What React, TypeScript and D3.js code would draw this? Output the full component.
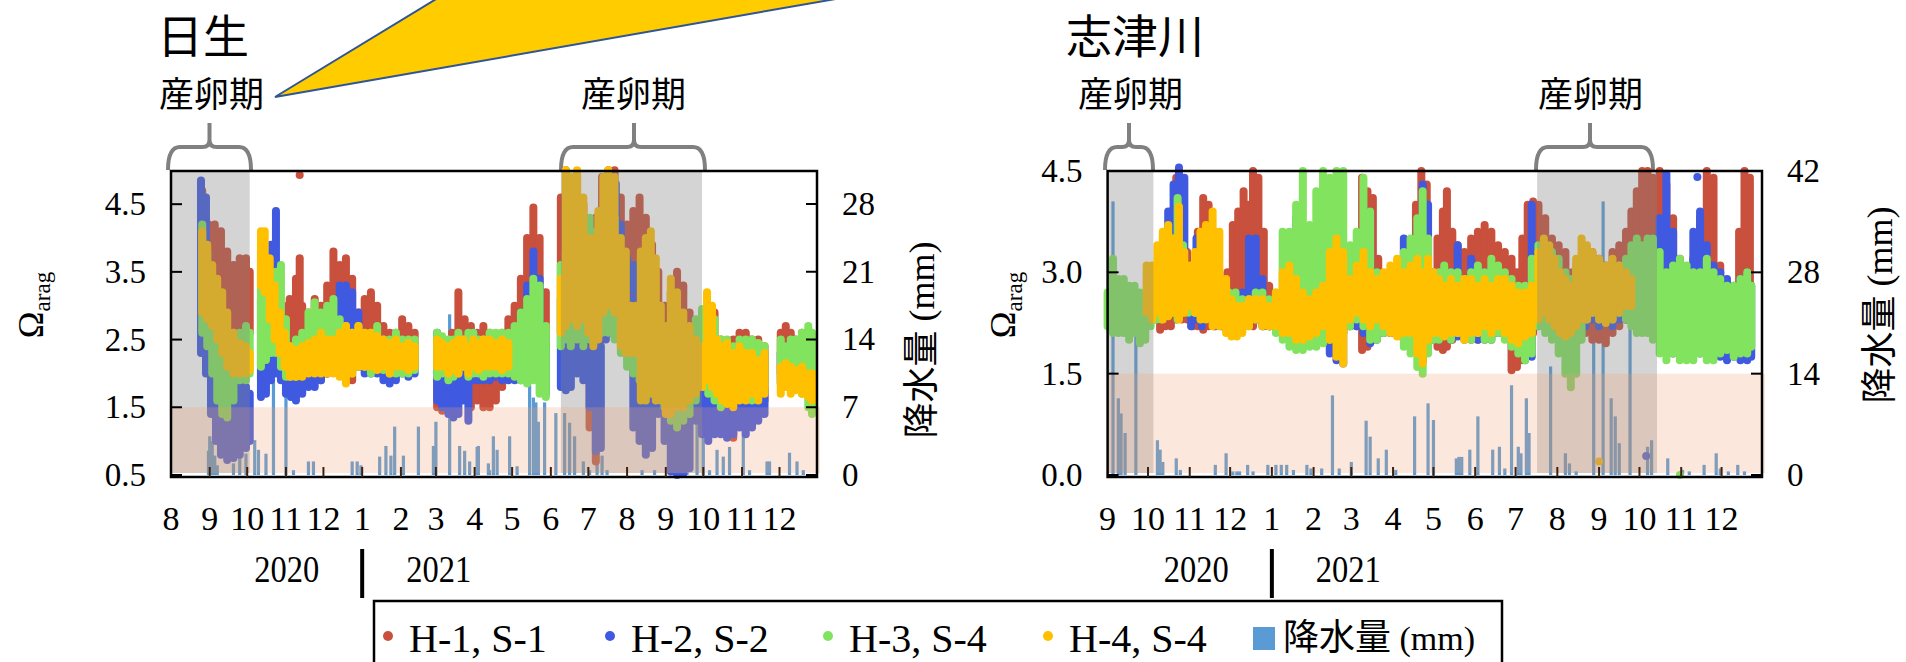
import * as d3 from "d3";
import React from "react";

// each observation: [days since panel start, low, high] of the dense point cloud
type Obs = [number, number, number];
// each rain entry: [days since panel start, mm]
type Rain = [number, number];

const W = 1906;
const H = 662;
const serif = "'Liberation Serif', 'Times New Roman', serif";
const cjk = "'Noto Sans CJK JP', 'Noto Sans CJK SC', sans-serif";

const seriesNames = ["H-1, S-1", "H-2, S-2", "H-3, S-4", "H-4, S-4"];
const seriesColors = ["#c8503c", "#3f5ae0", "#82e35e", "#ffc000"];
const rainColor = "#5b9bd5";
const rainLabel = "降水量";

// ---------- 日生 ----------
const hinaseTitle = "日生";
const hinaseStart = new Date(2020, 7, 1);
const hinaseEnd = new Date(2021, 11, 31);
const hinaseYTicks = [0.5, 1.5, 2.5, 3.5, 4.5];
const hinaseRainTicks = [0, 7, 14, 21, 28];
const hinaseSpawn = [
  [new Date(2020, 7, 1), new Date(2020, 9, 3)],
  [new Date(2021, 5, 9), new Date(2021, 8, 30)],
];

const hinaseH1: Obs[] = [
  [25, 3.9, 4.7], [30, 2.4, 4.2], [35, 2.4, 4.2], [40, 2.5, 4.1], [45, 2.4, 3.8], [50, 2.5, 3.6], [55, 2.6, 3.7], [60, 2.5, 3.7], [63, 2.6, 3.5],
  [72, 1.9, 3.8], [76, 2.0, 3.5], [80, 2.2, 3.3], [85, 2.4, 3.0], [90, 2.2, 3.0], [95, 2.0, 3.1], [100, 2.0, 3.4], [103, 1.9, 3.7], [103, 4.93, 4.93],
  [105, 2.0, 3.0], [110, 2.1, 2.9], [115, 2.0, 3.1], [120, 1.9, 3.0], [125, 2.0, 3.3], [130, 2.2, 3.8], [135, 2.0, 3.6], [140, 1.9, 3.7], [145, 1.9, 3.4],
  [150, 2.1, 2.9], [155, 2.3, 3.1], [160, 2.4, 3.2], [165, 2.4, 3.0], [170, 2.2, 2.7], [175, 2.2, 2.6], [180, 2.3, 2.6], [185, 2.2, 2.8], [190, 2.1, 2.7], [195, 2.1, 2.6],
  [213, 1.5, 1.9], [217, 1.45, 1.9], [221, 1.5, 2.0], [225, 1.6, 2.6], [230, 1.8, 3.2], [235, 1.7, 2.8], [240, 1.5, 2.7], [245, 1.6, 2.6], [250, 1.5, 2.7],
  [255, 1.5, 2.6], [260, 1.6, 2.5], [265, 1.8, 2.6], [270, 2.0, 2.8], [275, 2.2, 3.0], [280, 2.3, 3.4], [285, 2.4, 4.0], [290, 2.6, 4.45], [295, 2.5, 4.0], [300, 2.3, 3.2],
  [312, 2.6, 4.6], [316, 2.6, 5.0], [320, 2.7, 4.8], [325, 2.6, 4.9], [330, 2.5, 4.5], [335, 1.2, 4.0], [340, 0.7, 4.3], [345, 2.5, 4.9], [350, 3.0, 5.0],
  [355, 3.0, 5.0], [360, 2.6, 4.6], [365, 2.8, 4.2], [370, 2.9, 4.4], [375, 2.8, 4.6], [380, 2.9, 4.3], [385, 2.5, 3.9], [390, 2.2, 3.5], [395, 1.9, 3.0],
  [400, 1.9, 3.2], [405, 2.0, 3.5], [410, 2.0, 3.3], [415, 1.9, 2.9], [420, 2.0, 2.7], [425, 2.2, 2.9], [430, 2.5, 3.0], [435, 2.4, 2.9], [440, 1.6, 2.5],
  [445, 1.2, 2.4], [450, 1.05, 2.5], [455, 1.3, 2.6], [460, 1.2, 2.6], [465, 1.4, 2.5], [470, 1.5, 2.5], [475, 1.6, 2.4],
  [488, 2.0, 2.6], [492, 2.1, 2.7], [496, 2.2, 2.6], [500, 2.0, 2.5], [505, 2.1, 2.6], [510, 2.0, 2.5], [513, 2.1, 2.4],
];

const hinaseH2: Obs[] = [
  [24, 2.3, 4.85], [28, 2.0, 4.6], [32, 1.4, 3.2], [36, 1.0, 2.6], [40, 0.8, 2.3], [45, 0.72, 2.1], [50, 0.75, 1.9], [55, 0.8, 1.9], [60, 0.9, 1.8], [63, 1.0, 1.7],
  [72, 1.65, 3.1], [76, 1.7, 3.0], [80, 1.9, 3.9], [84, 2.0, 4.4], [88, 1.9, 3.0], [92, 1.7, 2.4], [96, 1.65, 2.2], [100, 1.6, 2.1], [105, 1.7, 2.2],
  [110, 1.8, 2.2], [115, 1.8, 2.3], [120, 1.9, 2.4], [125, 2.0, 2.6], [130, 2.1, 3.0], [135, 2.1, 3.3], [140, 2.1, 3.3], [145, 2.1, 3.2], [150, 2.1, 2.9],
  [155, 2.0, 2.6], [160, 2.0, 2.5], [165, 2.0, 2.5], [170, 1.9, 2.5], [175, 1.85, 2.4], [180, 1.9, 2.4], [185, 2.0, 2.4], [190, 1.95, 2.4], [195, 2.0, 2.3],
  [213, 1.6, 2.6], [217, 1.5, 2.4], [222, 1.4, 2.3], [226, 1.35, 2.2], [230, 1.4, 2.4], [234, 1.6, 2.5], [238, 1.3, 2.4], [242, 1.9, 2.6], [246, 1.9, 2.4],
  [250, 1.9, 2.3], [255, 1.9, 2.4], [260, 1.95, 2.4], [265, 1.9, 2.3], [270, 1.9, 2.4], [275, 1.9, 2.6], [280, 1.9, 2.9], [285, 2.0, 3.3], [290, 2.1, 3.8],
  [295, 2.0, 3.4], [300, 1.7, 2.5],
  [312, 1.8, 3.1], [316, 1.75, 3.1], [320, 1.8, 3.0], [325, 2.0, 2.9], [330, 1.9, 2.9], [335, 1.5, 2.8], [340, 0.85, 2.6], [344, 0.9, 2.4], [348, 2.5, 4.9],
  [352, 2.6, 4.95], [356, 2.8, 4.8], [360, 2.6, 4.2], [365, 2.5, 3.7], [370, 1.2, 3.6], [375, 1.0, 3.3], [380, 0.8, 3.0], [385, 0.9, 2.8], [390, 1.4, 2.5],
  [395, 1.0, 2.0], [400, 0.55, 2.0], [405, 0.5, 1.9], [410, 0.52, 2.0], [415, 0.6, 2.2], [420, 1.3, 2.6], [425, 1.1, 2.3], [430, 1.0, 2.2], [435, 1.1, 2.3],
  [440, 1.1, 2.2], [445, 1.05, 2.2], [450, 1.1, 2.2], [455, 1.2, 2.3], [460, 1.1, 2.1], [465, 1.2, 2.2], [470, 1.3, 2.2], [475, 1.4, 2.3],
  [488, 1.85, 2.3], [492, 1.9, 2.4], [496, 2.0, 2.4], [500, 1.9, 2.3], [505, 1.85, 2.5], [510, 1.9, 2.4], [513, 2.0, 2.3],
];

const hinaseH3: Obs[] = [
  [25, 2.6, 4.2], [29, 2.4, 3.8], [33, 2.0, 3.3], [37, 1.6, 2.9], [41, 1.4, 2.7], [45, 1.35, 2.6], [50, 1.6, 2.6], [55, 1.9, 2.6], [60, 1.9, 2.7], [63, 2.0, 2.6],
  [72, 2.1, 3.6], [76, 2.2, 3.4], [80, 2.3, 3.3], [84, 2.3, 3.5], [88, 2.1, 3.6], [92, 1.95, 2.8], [96, 1.95, 2.4], [100, 1.95, 2.5], [105, 2.0, 2.6],
  [110, 2.1, 2.9], [115, 2.2, 3.05], [120, 2.1, 2.9], [125, 2.2, 3.0], [130, 2.1, 3.1], [135, 2.0, 2.8], [140, 2.0, 2.7], [145, 2.0, 2.6], [150, 2.1, 2.7],
  [155, 2.1, 2.6], [160, 2.0, 2.6], [165, 2.1, 2.7], [170, 2.05, 2.5], [175, 2.0, 2.5], [180, 2.0, 2.6], [185, 2.0, 2.5], [190, 2.0, 2.5], [195, 2.05, 2.5],
  [213, 1.95, 2.6], [217, 2.0, 2.55], [222, 1.9, 2.5], [226, 1.95, 2.5], [230, 2.0, 2.6], [234, 2.1, 2.5], [238, 1.95, 2.6], [242, 2.0, 2.6], [246, 2.0, 2.5],
  [250, 1.95, 2.5], [255, 2.0, 2.6], [260, 2.0, 2.6], [265, 2.0, 2.6], [270, 2.0, 2.6], [275, 1.95, 2.7], [280, 1.9, 2.9], [285, 1.85, 3.1], [290, 1.9, 3.4],
  [295, 1.7, 3.3], [300, 1.65, 2.7],
  [312, 2.4, 3.6], [316, 2.5, 3.8], [320, 2.4, 4.0], [325, 2.5, 4.0], [330, 2.4, 4.2], [335, 2.5, 4.3], [340, 2.5, 4.1], [345, 2.6, 4.4], [350, 2.6, 4.6],
  [355, 2.5, 4.3], [360, 2.3, 3.8], [365, 2.1, 3.0], [370, 2.0, 2.9], [375, 1.9, 2.8], [380, 1.85, 2.7], [385, 1.9, 2.6], [390, 1.8, 2.7], [395, 1.5, 2.6],
  [400, 1.3, 2.5], [405, 1.2, 2.4], [410, 1.3, 2.5], [415, 1.4, 2.6], [420, 1.6, 2.8], [425, 1.8, 2.95], [430, 1.7, 2.9], [435, 1.6, 2.8], [440, 1.5, 2.5],
  [445, 1.6, 2.5], [450, 1.6, 2.4], [455, 1.7, 2.5], [460, 1.7, 2.5], [465, 1.6, 2.5], [470, 1.7, 2.45], [475, 1.8, 2.4],
  [488, 1.9, 2.5], [492, 1.8, 2.4], [496, 1.9, 2.5], [500, 1.8, 2.5], [505, 1.7, 2.6], [510, 1.5, 2.7], [513, 1.4, 2.6],
];

const hinaseH4: Obs[] = [
  [25, 2.9, 4.1], [29, 2.8, 3.9], [33, 2.7, 3.6], [37, 2.5, 3.4], [41, 2.3, 3.2], [45, 2.1, 2.9], [50, 2.0, 2.6], [55, 2.0, 2.45], [60, 2.0, 2.4], [63, 2.05, 2.3],
  [72, 3.3, 4.1], [75, 3.2, 4.1], [79, 2.8, 3.7], [83, 2.5, 3.3], [87, 2.3, 2.9], [91, 2.1, 2.6], [95, 1.95, 2.4], [100, 1.95, 2.35], [105, 1.95, 2.4],
  [110, 2.0, 2.45], [115, 2.0, 2.5], [120, 2.0, 2.6], [125, 2.0, 2.5], [130, 2.0, 2.5], [135, 1.95, 2.6], [140, 1.85, 2.7], [145, 2.0, 2.6], [150, 2.1, 2.7],
  [155, 2.1, 2.6], [160, 2.1, 2.6], [165, 2.05, 2.55], [170, 2.1, 2.5], [175, 2.0, 2.45], [180, 2.1, 2.5], [185, 2.1, 2.4], [190, 2.05, 2.45], [195, 2.1, 2.4],
  [213, 2.1, 2.5], [217, 2.1, 2.45], [222, 2.0, 2.4], [226, 2.05, 2.45], [230, 2.0, 2.5], [234, 2.1, 2.5], [238, 2.0, 2.4], [242, 2.1, 2.5], [246, 2.05, 2.45],
  [250, 2.1, 2.5], [255, 2.1, 2.5], [260, 2.1, 2.45], [265, 2.05, 2.5], [270, 2.1, 2.45],
  [312, 2.6, 3.4], [316, 2.7, 5.0], [320, 2.8, 4.9], [325, 2.7, 5.0], [330, 2.8, 4.6], [334, 2.6, 4.0], [338, 2.4, 4.0], [342, 2.5, 4.4], [346, 2.9, 4.9],
  [350, 3.0, 5.0], [355, 2.9, 4.9], [360, 2.4, 4.0], [364, 2.3, 3.8], [368, 2.3, 3.0], [372, 2.3, 3.0], [376, 1.6, 3.8], [380, 1.6, 4.0], [384, 1.7, 4.1],
  [388, 1.6, 3.7], [392, 1.6, 3.0], [396, 1.4, 2.7], [400, 1.4, 3.4], [405, 1.5, 3.2], [410, 1.5, 2.9], [415, 1.6, 2.7], [420, 1.7, 2.5], [425, 1.8, 2.4],
  [429, 1.9, 3.2], [433, 1.8, 3.0], [437, 1.7, 2.5], [441, 1.6, 2.4], [445, 1.55, 2.45], [450, 1.5, 2.3], [455, 1.6, 2.4], [460, 1.6, 2.3], [465, 1.7, 2.3],
  [470, 1.6, 2.2], [475, 1.7, 2.3],
  [488, 1.7, 2.1], [492, 1.8, 2.15], [496, 1.7, 2.1], [500, 1.75, 2.05], [505, 1.7, 2.1], [510, 1.65, 2.0], [513, 1.6, 2.0],
];

const hinaseRain: Rain[] = [
  [30, 2.5], [31, 4], [33, 3.5], [35, 2], [37, 1], [50, 1.2], [55, 2.6], [60, 2.2], [67, 3.6], [70, 2.6], [76, 2.2], [82, 9.8], [92, 9.0], [98, 0.5],
  [110, 1.4], [114, 1.4], [145, 1.4], [149, 1.4], [152, 1.0], [167, 1.9], [172, 3.0], [176, 2.0], [179, 5.0], [186, 2.0], [198, 5.0], [210, 3.0],
  [212, 5.5], [223, 16.6], [231, 3.0], [235, 2.5], [239, 1.4], [245, 2.9], [246, 3.0], [254, 1.2], [255, 0.5], [258, 4.0], [261, 2.6], [271, 4.0],
  [277, 0.9], [287, 11.0], [290, 8.0], [292, 7.5], [294, 5.5], [299, 7.5], [308, 6.4], [315, 6.4], [319, 5.4], [323, 4.0], [330, 1.4], [335, 0.5],
  [341, 3.3], [345, 2.0], [349, 0.5], [377, 0.5], [387, 0.5], [401, 1.9], [406, 2.6], [413, 0.9], [421, 6.0], [426, 6.0], [431, 0.5], [437, 2.6],
  [442, 1.9], [447, 2.9], [458, 6.8], [463, 0.5], [477, 1.4], [479, 1.4], [495, 2.3], [501, 1.4], [506, 0.5],
];

// ---------- 志津川 ----------
const shizuTitle = "志津川";
const shizuStart = new Date(2020, 8, 1);
const shizuEnd = new Date(2021, 11, 31);
const shizuYTicks = [0, 1.5, 3.0, 4.5];
const shizuRainTicks = [0, 14, 28, 42];
const shizuSpawn = [
  [new Date(2020, 8, 1), new Date(2020, 9, 5)],
  [new Date(2021, 6, 17), new Date(2021, 9, 14)],
];

const shizuH1: Obs[] = [
  [35, 2.3, 2.8], [39, 2.15, 3.2], [43, 2.2, 3.6], [47, 2.2, 3.9], [51, 2.3, 4.4], [55, 2.3, 4.3], [59, 2.3, 3.3],
  [63, 2.2, 2.8], [67, 2.2, 3.6], [71, 2.15, 4.1], [75, 2.2, 4.0], [79, 2.2, 3.6], [84, 2.2, 2.9], [89, 2.3, 3.0],
  [93, 2.2, 3.7], [97, 2.15, 3.9], [101, 2.2, 4.2], [105, 2.3, 4.0], [108, 2.2, 4.5], [112, 2.3, 4.4], [116, 2.2, 3.6], [120, 2.2, 2.8],
  [125, 2.2, 2.6], [130, 2.1, 2.6], [135, 2.1, 2.7], [140, 2.1, 2.7], [145, 2.1, 2.8], [150, 2.0, 2.9], [155, 2.0, 3.3], [160, 2.1, 3.8],
  [165, 2.1, 3.6], [170, 2.0, 3.5], [175, 2.1, 3.3], [180, 2.2, 2.9],
  [185, 2.2, 3.2], [189, 1.85, 4.4], [193, 1.9, 4.2], [197, 2.0, 4.1], [201, 2.1, 3.2], [205, 2.1, 2.8], [210, 2.1, 2.9], [215, 2.1, 3.0],
  [220, 2.0, 3.1], [225, 2.0, 3.3], [229, 2.0, 4.0], [233, 2.1, 4.5], [237, 2.1, 4.3], [241, 2.0, 3.0],
  [245, 1.9, 3.5], [249, 1.85, 3.9], [252, 1.9, 4.2], [256, 2.0, 3.6], [260, 2.1, 3.4], [265, 2.0, 3.3], [270, 2.0, 3.5], [275, 2.0, 3.6],
  [280, 2.1, 3.7], [285, 2.2, 3.6], [290, 2.1, 3.4],
  [295, 2.2, 3.3], [300, 1.55, 3.2], [304, 1.6, 3.0], [308, 1.7, 3.5], [312, 2.0, 4.0], [316, 2.1, 4.05],
  [320, 2.2, 4.0], [325, 2.3, 3.8], [330, 2.4, 3.5], [335, 2.3, 3.4], [340, 2.2, 3.3], [345, 1.9, 3.0], [350, 2.0, 3.2],
  [355, 2.1, 3.3], [360, 2.0, 3.3], [365, 2.0, 3.2], [370, 1.95, 3.1], [375, 2.1, 3.3], [380, 2.2, 3.4], [385, 2.3, 3.6],
  [389, 2.3, 3.9], [393, 2.3, 4.2], [397, 2.4, 4.5], [401, 2.3, 4.5], [405, 2.3, 4.4],
  [410, 2.2, 4.5], [415, 2.0, 4.3], [420, 1.9, 3.8], [425, 1.8, 3.2],
  [430, 1.9, 3.0], [435, 2.0, 3.2], [440, 2.3, 3.8], [445, 2.2, 4.5], [450, 2.1, 4.4],
  [455, 1.9, 3.1], [460, 2.0, 2.8], [465, 2.0, 2.7], [469, 2.1, 3.6], [473, 2.3, 4.5], [477, 2.4, 4.4],
];

const shizuH2: Obs[] = [
  [37, 2.4, 3.0], [41, 2.3, 3.3], [45, 2.4, 3.9], [49, 2.5, 4.3], [53, 2.6, 4.55], [57, 2.4, 4.4],
  [62, 2.2, 2.8], [66, 2.3, 3.5], [70, 2.2, 3.4], [75, 2.3, 3.0], [80, 2.2, 2.7], [85, 2.2, 2.6], [90, 2.3, 2.6],
  [95, 2.3, 2.6], [100, 2.2, 2.7], [105, 2.3, 3.5], [110, 2.3, 3.5], [115, 2.2, 2.9], [120, 2.2, 2.6],
  [125, 2.3, 2.6], [130, 2.2, 2.7], [135, 2.2, 2.9], [140, 2.1, 3.8], [145, 2.0, 3.6], [150, 2.0, 3.3], [155, 2.0, 3.5], [160, 2.1, 3.1],
  [165, 1.8, 3.0], [170, 1.7, 2.9], [175, 1.65, 3.0], [180, 2.2, 2.8],
  [185, 2.2, 2.9], [190, 2.1, 3.6], [195, 1.95, 3.9], [200, 2.0, 3.0], [205, 2.1, 2.8], [210, 2.1, 2.9], [215, 2.1, 3.0], [220, 2.0, 3.5],
  [225, 2.1, 3.4], [230, 1.8, 3.7], [234, 1.7, 4.3], [238, 2.0, 4.0], [242, 2.1, 3.0],
  [246, 2.0, 2.7], [250, 2.1, 2.8], [255, 2.0, 3.0], [260, 2.05, 3.4], [265, 2.1, 2.9], [270, 2.1, 3.2], [275, 2.0, 2.9], [280, 2.0, 3.0],
  [285, 2.0, 2.9], [290, 2.1, 2.8],
  [295, 2.1, 2.8], [300, 2.0, 2.7], [305, 1.95, 2.7], [310, 1.7, 2.6], [315, 1.75, 4.0],
  [320, 2.3, 2.9], [325, 2.3, 2.8], [330, 2.3, 2.8], [335, 2.2, 2.8], [340, 2.2, 2.9], [345, 2.3, 2.8], [350, 2.3, 2.9],
  [355, 2.2, 3.0], [360, 2.3, 3.1], [365, 2.2, 3.0], [370, 2.3, 2.9], [375, 2.2, 3.0], [380, 2.3, 3.1], [385, 2.3, 3.0], [389, 2.3, 3.2],
  [393, 2.3, 3.2], [397, 2.2, 3.3], [400, 0.28, 0.28], [401, 2.3, 3.4], [405, 2.3, 3.5],
  [410, 2.1, 3.8], [415, 1.9, 4.46], [420, 1.8, 3.6], [425, 1.8, 3.1],
  [430, 1.8, 3.0], [435, 1.8, 3.6], [438, 4.41, 4.41], [440, 1.8, 3.9], [445, 1.9, 3.4], [450, 1.8, 3.1],
  [455, 1.75, 3.0], [460, 1.7, 2.9], [465, 1.75, 2.8], [470, 1.7, 2.9], [475, 1.7, 3.0], [478, 1.75, 2.8],
];

const shizuH3: Obs[] = [
  [0, 2.2, 2.7], [4, 2.1, 3.2], [8, 2.1, 2.9], [12, 2.1, 2.9], [16, 2.0, 2.8], [20, 2.1, 2.8], [24, 1.95, 2.7], [28, 2.0, 2.6], [32, 2.2, 2.8],
  [36, 2.3, 2.8], [40, 2.3, 3.0], [44, 2.4, 3.2], [48, 2.4, 3.5], [52, 2.3, 4.1], [56, 2.4, 3.4],
  [60, 2.4, 2.8], [65, 2.4, 2.8], [70, 2.4, 2.9], [75, 2.5, 2.9], [80, 2.4, 2.7], [85, 2.3, 2.6], [90, 2.3, 2.7],
  [95, 2.3, 2.7], [100, 2.2, 2.6], [105, 2.2, 2.6], [110, 2.3, 2.7], [115, 2.3, 2.7], [120, 2.2, 2.6],
  [125, 2.1, 2.7], [130, 2.0, 3.6], [135, 1.9, 3.6], [140, 1.85, 4.0], [145, 1.85, 4.5], [150, 1.9, 3.7], [155, 1.9, 4.2], [160, 1.95, 4.5],
  [165, 2.0, 4.4], [170, 2.0, 4.5], [175, 2.1, 4.5], [180, 2.2, 3.4],
  [185, 2.3, 3.6], [190, 2.2, 4.4], [195, 2.0, 3.9], [200, 2.0, 3.0], [205, 2.1, 2.9], [210, 2.2, 3.0], [215, 2.1, 2.9], [220, 1.9, 3.3],
  [225, 1.8, 3.5], [230, 1.6, 3.8], [234, 1.5, 4.2], [238, 1.8, 3.5], [242, 2.0, 3.0],
  [246, 2.0, 3.0], [250, 2.1, 3.1], [255, 2.0, 3.0], [260, 2.1, 3.0], [265, 2.0, 2.9], [270, 2.0, 3.0], [275, 2.1, 3.1], [280, 2.0, 3.0],
  [285, 2.0, 3.2], [290, 2.1, 3.1],
  [295, 2.0, 3.0], [300, 1.9, 2.9], [305, 1.8, 2.8], [310, 1.7, 2.8], [315, 1.8, 3.2],
  [320, 2.2, 3.4], [325, 2.1, 3.3], [330, 2.0, 3.3], [335, 1.8, 3.2], [340, 1.5, 3.0], [344, 1.3, 2.9], [348, 1.5, 3.1], [352, 2.0, 3.2],
  [356, 2.3, 3.1], [360, 2.4, 3.1], [365, 2.3, 3.0], [370, 2.3, 3.0], [375, 2.3, 3.1], [380, 2.4, 3.1], [385, 2.3, 3.2], [389, 2.2, 3.4],
  [393, 2.1, 3.5], [397, 2.1, 3.4], [401, 2.1, 3.5], [405, 2.0, 3.5],
  [410, 1.8, 3.3], [415, 1.7, 3.0], [420, 1.8, 3.1], [425, 1.7, 3.2], [425, 0.0, 0.0],
  [430, 1.7, 3.1], [435, 1.7, 3.0], [440, 1.8, 3.0], [445, 1.7, 3.2], [450, 1.7, 3.0],
  [455, 1.8, 2.9], [460, 1.85, 2.8], [465, 1.75, 2.8], [470, 1.8, 2.9], [475, 1.8, 3.0], [478, 1.9, 2.8],
];

const shizuH4: Obs[] = [
  [29, 2.4, 3.1], [33, 2.3, 3.1],
  [37, 2.4, 3.4], [41, 2.3, 3.6], [45, 2.35, 3.7], [49, 2.4, 3.5], [53, 2.3, 3.97], [57, 2.4, 3.3],
  [61, 2.5, 3.1], [65, 2.4, 3.3], [69, 2.3, 3.6], [73, 2.3, 3.7], [78, 2.2, 3.9], [83, 2.2, 3.6], [88, 2.1, 2.9], [92, 2.05, 2.6],
  [96, 2.05, 2.5], [100, 2.1, 2.5], [105, 2.2, 2.6], [110, 2.3, 2.6], [115, 2.2, 2.6], [120, 2.2, 2.5],
  [125, 2.2, 2.7], [130, 2.1, 3.0], [135, 2.1, 3.1], [140, 2.0, 2.9], [145, 2.0, 2.7], [150, 2.05, 2.6], [155, 2.1, 2.7], [160, 2.2, 2.8],
  [165, 2.0, 3.3], [170, 1.75, 3.5], [175, 1.65, 3.3], [180, 2.3, 2.9],
  [185, 2.4, 3.1], [190, 2.3, 3.3], [195, 2.2, 3.0], [200, 2.3, 2.9], [205, 2.2, 3.0], [210, 2.1, 3.1], [215, 2.05, 3.2], [220, 2.1, 3.0],
  [225, 2.1, 3.1], [230, 1.8, 3.2], [234, 1.65, 3.0], [238, 2.0, 3.2], [242, 2.1, 3.0],
  [246, 2.1, 2.9], [250, 2.05, 2.8], [255, 2.1, 2.9], [260, 2.1, 2.8], [265, 2.0, 2.9], [270, 2.1, 2.9], [275, 2.1, 2.8], [280, 2.2, 2.9],
  [285, 2.1, 2.8], [290, 2.2, 2.9],
  [295, 2.1, 2.9], [300, 2.0, 2.8], [305, 1.95, 2.7], [310, 2.05, 2.7], [315, 2.1, 2.8],
  [320, 2.3, 3.3], [324, 2.4, 3.5], [328, 2.3, 3.4], [332, 2.2, 3.2], [336, 2.1, 3.0], [340, 2.05, 2.9], [344, 2.1, 2.8], [348, 2.2, 3.2], [352, 2.3, 3.5],
  [356, 2.3, 3.4], [360, 2.4, 3.3], [365, 2.3, 3.2], [365, 0.2, 0.2], [370, 2.25, 3.1], [375, 2.3, 3.2], [380, 2.4, 3.1], [385, 2.5, 3.0], [389, 2.5, 2.9],
];

const shizuRain: Rain[] = [
  [4, 37.8], [8, 10.6], [10, 8.5], [13, 5.8], [21, 26], [37, 4.8], [39, 3.5], [41, 1.8], [51, 2.3], [54, 0.7], [80, 1.4], [88, 3.0], [93, 0.5],
  [96, 0.5], [98, 0.5], [104, 1.4], [108, 0.5], [119, 1.4], [125, 1.4], [129, 1.4], [133, 1.4], [138, 0.7], [148, 1.4], [151, 0.9], [159, 0.9],
  [167, 11.0], [172, 0.9], [181, 1.8], [192, 7.5], [195, 5.3], [201, 2.3], [207, 3.5], [214, 0.7], [228, 8.1], [238, 9.9], [242, 7.6], [259, 2.3],
  [261, 2.5], [263, 2.5], [269, 3.5], [275, 8.1], [286, 3.5], [291, 3.9], [295, 0.9], [300, 12.4], [305, 3.9], [307, 3.0], [311, 10.6], [313, 5.8],
  [329, 15.0], [340, 3.0], [343, 1.6], [348, 0.5], [361, 20], [368, 37.8], [374, 10.6], [377, 8.1], [380, 4.4], [388, 22], [401, 3.9], [404, 4.8],
  [416, 2.3], [427, 0.7], [432, 0.5], [443, 1.4], [452, 3.0], [455, 0.9], [461, 0.5], [468, 1.4], [473, 0.5],
];

const spawnLabel = "産卵期";

type PanelCfg = {
  left: number;
  right: number;
  start: Date;
  end: Date;
  yDomain: [number, number];
  rainDomain: [number, number];
  yTicks: number[];
  rainTicks: number[];
  spawn: Date[][];
  series: Obs[][];
  rain: Rain[];
  omegaX: number;
  rainLabelX: number;
  rainLabelY: number;
};

const TOP = 171;
const BOTTOM = 477;

function Bracket({ x1, x2, xm }: { x1: number; x2: number; xm: number }) {
  const yb = 170, yl = 147, yt = 123, r = 12;
  const d = `M${x1},${yb} Q${x1},${yl} ${x1 + r},${yl} L${xm - 7},${yl} Q${xm},${yl} ${xm},${yl - 7} L${xm},${yt}
    M${xm},${yl - 7} Q${xm},${yl} ${xm + 7},${yl} L${x2 - r},${yl} Q${x2},${yl} ${x2},${yb}`;
  return <path d={d} fill="none" stroke="#808080" strokeWidth={4} />;
}

function Panel({ cfg }: { cfg: PanelCfg }) {
  const x = d3.scaleTime().domain([cfg.start, cfg.end]).range([cfg.left, cfg.right]);
  const y = d3.scaleLinear().domain(cfg.yDomain).range([BOTTOM, TOP]);
  const yr = d3.scaleLinear().domain(cfg.rainDomain).range([BOTTOM, TOP]);
  const at = (d: number) => x(d3.timeDay.offset(cfg.start, d));
  const months = d3.timeMonth.range(cfg.start, cfg.end);
  const jan = x(new Date(2021, 0, 1));

  return (
    <g>
      {/* rainfall bars (behind the points) */}
      {cfg.rain.map(([d, mm], i) => (
        <rect key={"r" + i} x={at(d) - 1.6} width={3.2} y={yr(mm)} height={yr(0) - yr(mm)} fill={rainColor} />
      ))}
      {/* point clouds */}
      {cfg.series.map((s, si) => (
        <g key={"s" + si} stroke={seriesColors[si]} fill={seriesColors[si]} strokeWidth={8} strokeLinecap="round">
          {s.map(([d, lo, hi], i) =>
            lo === hi ? (
              <circle key={i} cx={at(d)} cy={y(lo)} r={4} stroke="none" />
            ) : (
              <line key={i} x1={at(d)} x2={at(d)} y1={y(hi)} y2={y(lo)} />
            )
          )}
        </g>
      ))}
      {/* spawning periods */}
      {cfg.spawn.map(([a, b], i) => (
        <rect key={"g" + i} x={x(a)} width={x(b) - x(a)} y={TOP} height={473 - TOP} fill="rgba(133,133,133,0.35)" />
      ))}
      {/* Ω < 1.5 zone */}
      <rect x={cfg.left} width={cfg.right - cfg.left + 3} y={y(1.5)} height={473 - y(1.5)} fill="rgba(240,160,110,0.25)" />
      {/* frame */}
      <rect x={cfg.left} y={TOP} width={cfg.right - cfg.left} height={BOTTOM - TOP} fill="none" stroke="#000" strokeWidth={2.5} />
      {cfg.yTicks.map((t) => (
        <g key={"yt" + t}>
          <line x1={cfg.left} x2={cfg.left + 11} y1={y(t)} y2={y(t)} stroke="#000" strokeWidth={2} />
          <text x={cfg.left - 25} y={y(t) + 11} textAnchor="end" fontFamily={serif} fontSize={33}>
            {t.toFixed(1)}
          </text>
        </g>
      ))}
      {cfg.rainTicks.map((t) => (
        <g key={"rt" + t}>
          <line x1={cfg.right} x2={cfg.right - 11} y1={yr(t)} y2={yr(t)} stroke="#000" strokeWidth={2} />
          <text x={cfg.right + 25} y={yr(t) + 11} fontFamily={serif} fontSize={33}>
            {t}
          </text>
        </g>
      ))}
      {months.map((m, i) => (
        <g key={"m" + i}>
          {i > 0 && <line x1={x(m)} x2={x(m)} y1={BOTTOM} y2={BOTTOM - 10} stroke="#3b2314" strokeWidth={2} />}
          <text x={x(m)} y={530} textAnchor="middle" fontFamily={serif} fontSize={34}>
            {m.getMonth() + 1}
          </text>
        </g>
      ))}
      <text x={jan - 43} y={582} textAnchor="end" fontFamily={serif} fontSize={38} textLength={65} lengthAdjust="spacingAndGlyphs">
        2020
      </text>
      <line x1={jan} x2={jan} y1={549} y2={598} stroke="#000" strokeWidth={4} />
      <text x={jan + 44} y={582} fontFamily={serif} fontSize={38} textLength={65} lengthAdjust="spacingAndGlyphs">
        2021
      </text>
      {/* axis titles */}
      <text transform={`translate(${cfg.omegaX},305) rotate(-90)`} textAnchor="middle" fontFamily={serif}>
        <tspan fontSize={36}>Ω</tspan>
        <tspan fontSize={23} dy={7}>arag</tspan>
      </text>
      <text transform={`translate(${cfg.rainLabelX + 13},${cfg.rainLabelY}) rotate(-90)`} textAnchor="middle" fontSize={36}>
        <tspan fontFamily={cjk}>{rainLabel}</tspan>
        <tspan fontFamily={serif}> (mm)</tspan>
      </text>
    </g>
  );
}

const hinaseCfg: PanelCfg = {
  left: 171,
  right: 817,
  start: hinaseStart,
  end: hinaseEnd,
  yDomain: [0.47, 4.99],
  rainDomain: [-0.207, 31.41],
  yTicks: hinaseYTicks,
  rainTicks: hinaseRainTicks,
  spawn: hinaseSpawn,
  series: [hinaseH1, hinaseH2, hinaseH3, hinaseH4],
  rain: hinaseRain,
  omegaX: 43,
  rainLabelX: 921,
  rainLabelY: 340,
};

const shizuCfg: PanelCfg = {
  left: 1107.6,
  right: 1762,
  start: shizuStart,
  end: shizuEnd,
  yDomain: [-0.03, 4.5],
  rainDomain: [-0.276, 42],
  yTicks: shizuYTicks,
  rainTicks: shizuRainTicks,
  spawn: shizuSpawn,
  series: [shizuH1, shizuH2, shizuH3, shizuH4],
  rain: shizuRain,
  omegaX: 1015,
  rainLabelX: 1879,
  rainLabelY: 305,
};

const legendDotX = [388, 610, 828, 1048];

export default function App() {
  return (
    <div style={{ position: "absolute", left: 0, top: 0, width: W, height: H, overflow: "hidden", background: "#fff" }}>
      <svg width={W} height={H} viewBox={`0 0 ${W} ${H}`}>
        <rect width={W} height={H} fill="#fff" />
        {/* callout wedge */}
        <polygon points="275,97 451,-10 887,-10" fill="#ffcc00" stroke="#2f5597" strokeWidth={2} />

        <text x={157} y={53} fontFamily={cjk} fontSize={46}>{hinaseTitle}</text>
        <text x={1066} y={53} fontFamily={cjk} fontSize={46}>{shizuTitle}</text>
        <text x={159} y={107} fontFamily={cjk} fontSize={35}>{spawnLabel}</text>
        <text x={581} y={107} fontFamily={cjk} fontSize={35}>{spawnLabel}</text>
        <text x={1078} y={107} fontFamily={cjk} fontSize={35}>{spawnLabel}</text>
        <text x={1538} y={107} fontFamily={cjk} fontSize={35}>{spawnLabel}</text>

        <Bracket x1={168} x2={251} xm={209.5} />
        <Bracket x1={561} x2={705} xm={634} />
        <Bracket x1={1105} x2={1153} xm={1129} />
        <Bracket x1={1536} x2={1653} xm={1590} />

        <Panel cfg={hinaseCfg} />
        <Panel cfg={shizuCfg} />

        {/* legend */}
        <rect x={374} y={601} width={1128} height={100} fill="#fff" stroke="#000" strokeWidth={2.5} />
        {seriesNames.map((n, i) => (
          <g key={n}>
            <circle cx={legendDotX[i]} cy={636} r={5} fill={seriesColors[i]} />
            <text x={legendDotX[i] + 21} y={652} fontFamily={serif} fontSize={40}>{n}</text>
          </g>
        ))}
        <rect x={1253} y={627} width={22} height={23} fill={rainColor} />
        <text x={1283} y={650} fontSize={36}>
          <tspan fontFamily={cjk}>{rainLabel}</tspan>
          <tspan fontFamily={serif} fontSize={34}> (mm)</tspan>
        </text>
      </svg>
    </div>
  );
}
